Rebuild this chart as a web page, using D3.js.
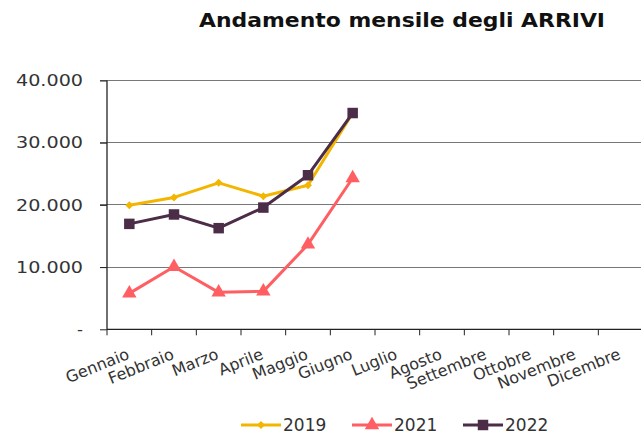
<!DOCTYPE html>
<html><head><meta charset="utf-8">
<script src="https://cdn.jsdelivr.net/npm/d3@7"></script>
<style>body{margin:0;background:#fff}svg{display:block}text{font-family:"DejaVu Sans",sans-serif}</style>
</head><body>
<svg id="c" width="641" height="438"></svg>
<script>
const months = ["Gennaio","Febbraio","Marzo","Aprile","Maggio","Giugno","Luglio","Agosto","Settembre","Ottobre","Novembre","Dicembre"];
const v2019 = [19950, 21200, 23550, 21400, 23150, 34800];
const v2021 = [5780, 10050, 5940, 6100, 13640, 24330];
const v2022 = [16950, 18460, 16260, 19570, 24770, 34770];
const yTicks = [0, 10000, 20000, 30000, 40000];
const yTickLabels = ["-", "10.000", "20.000", "30.000", "40.000"];
const seriesNames = ["2019", "2021", "2022"];
const seriesColors = ["#F2B600", "#FF5F63", "#4B2D48"];
const seriesSymbols = [d3.symbolDiamond2, d3.symbolTriangle, d3.symbolSquare];
const symbolSizes = [40, 90, 110];

const svg = d3.select("#c");
const x = d3.scaleBand().domain(months).range([107, 643]);
const y = d3.scaleLinear().domain([0, 40000]).range([329.3, 80.5]);

svg.append("text").attr("x", 402).attr("y", 27).attr("text-anchor", "middle")
  .attr("font-size", 19).attr("font-weight", "bold").attr("fill", "#111")
  .attr("textLength", 406).attr("lengthAdjust", "spacingAndGlyphs")
  .text("Andamento mensile degli ARRIVI");

// gridlines
svg.append("g").selectAll("line").data(yTicks.slice(1)).join("line")
  .attr("x1", 100).attr("x2", 641).attr("y1", d => y(d)).attr("y2", d => y(d))
  .attr("stroke", "#777").attr("stroke-width", 1).attr("shape-rendering", "crispEdges");

// y axis
const yAxis = svg.append("g").attr("transform", "translate(107,0)")
  .call(d3.axisLeft(y).tickValues(yTicks).tickSize(7).tickFormat((d, i) => yTickLabels[i]));
yAxis.select(".domain").attr("stroke", "#222").attr("stroke-width", 1.3).attr("d", "M0," + y(40000) + "V" + y(0));
yAxis.selectAll(".tick line").attr("stroke", "#222");
yAxis.selectAll(".tick text").attr("x", -24).attr("font-size", 16.5).attr("fill", "#333")
  .attr("textLength", (d, i) => i === 0 ? null : 67).attr("lengthAdjust", "spacingAndGlyphs");

// x axis
const xg = svg.append("g").attr("transform", "translate(0," + y(0) + ")");
xg.append("line").attr("x1", 107).attr("x2", 641).attr("stroke", "#222").attr("stroke-width", 1.3);
xg.selectAll("line.t").data(months).join("line").attr("class", "t")
  .attr("x1", d => x(d)).attr("x2", d => x(d)).attr("y1", 0).attr("y2", 6).attr("stroke", "#222");
xg.selectAll("text").data(months).join("text")
  .attr("transform", d => "translate(" + (x(d) + x.bandwidth() / 2 + 1) + ",29) rotate(-22)")
  .attr("text-anchor", "end").attr("font-size", 16).attr("fill", "#333").text(d => d);

// series
const allVals = [v2019, v2021, v2022];
const line = d3.line().x((d, i) => x(months[i]) + x.bandwidth() / 2).y(d => y(d));
allVals.forEach((vals, s) => {
  const g = svg.append("g");
  g.append("path").attr("d", line(vals)).attr("fill", "none")
    .attr("stroke", seriesColors[s]).attr("stroke-width", 3).attr("stroke-linejoin", "round");
  g.selectAll("path.m").data(vals).join("path").attr("class", "m")
    .attr("transform", (d, i) => "translate(" + (x(months[i]) + x.bandwidth() / 2) + "," + y(d) + ")")
    .attr("d", d3.symbol().type(seriesSymbols[s]).size(symbolSizes[s]))
    .attr("fill", seriesColors[s]);
});

// legend
const legX = [241, 352, 463];
seriesNames.forEach((n, s) => {
  const g = svg.append("g").attr("transform", "translate(" + legX[s] + ",425)");
  g.append("line").attr("x1", 0).attr("x2", 40).attr("stroke", seriesColors[s]).attr("stroke-width", 3);
  g.append("path").attr("transform", "translate(20,0)")
    .attr("d", d3.symbol().type(seriesSymbols[s]).size(symbolSizes[s])).attr("fill", seriesColors[s]);
  g.append("text").attr("x", 42).attr("y", 6).attr("font-size", 17).attr("fill", "#333").text(n);
});
</script>
</body></html>
